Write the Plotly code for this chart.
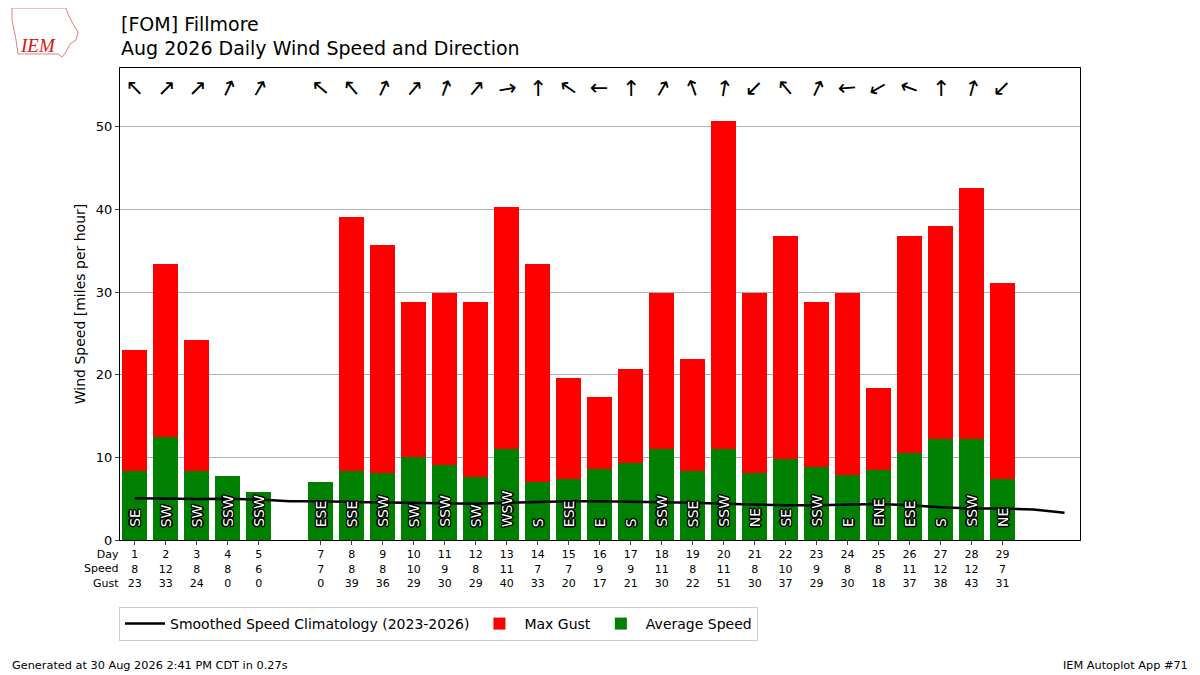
import plotly.graph_objects as go

# daily values (day 6 missing)
days = [1, 2, 3, 4, 5, 7, 8, 9, 10, 11, 12, 13, 14, 15, 16, 17, 18, 19, 20,
        21, 22, 23, 24, 25, 26, 27, 28, 29]
avg_speed = [8.35, 12.5, 8.35, 7.7, 5.8, 7.0, 8.35, 8.1, 10.0, 9.1, 7.6, 11.0,
             7.0, 7.4, 8.6, 9.3, 11.0, 8.35, 11.0, 8.1, 9.8, 8.8, 7.9, 8.5,
             10.5, 12.2, 12.2, 7.4]
max_gust = [23.0, 33.4, 24.2, 0, 0, 0, 39.1, 35.7, 28.8, 29.9, 28.8, 40.3,
            33.4, 19.6, 17.3, 20.7, 29.9, 21.9, 50.7, 29.9, 36.8, 28.8, 29.9,
            18.4, 36.8, 38.0, 42.6, 31.1]
speed_lbl = [8, 12, 8, 8, 6, 7, 8, 8, 10, 9, 8, 11, 7, 7, 9, 9, 11, 8, 11, 8,
             10, 9, 8, 8, 11, 12, 12, 7]
gust_lbl = [23, 33, 24, 0, 0, 0, 39, 36, 29, 30, 29, 40, 33, 20, 17, 21, 30,
            22, 51, 30, 37, 29, 30, 18, 37, 38, 43, 31]
dir_txt = ["SE", "SW", "SW", "SSW", "SSW", "ESE", "SSE", "SSW", "SW", "SSW",
           "SW", "WSW", "S", "ESE", "E", "S", "SSW", "SSE", "SSW", "NE", "SE",
           "SSW", "E", "ENE", "ESE", "S", "SSW", "NE"]
dir_deg = [135, 225, 225, 205, 210, 130, 140, 205, 220, 200, 220, 260, 180,
           125, 90, 180, 210, 160, 190, 45, 140, 205, 85, 60, 110, 180, 195, 45]

clim_days = list(range(1, 32))
clim_speed = [5.05, 5.0, 4.95, 5.0, 4.9, 4.7, 4.7, 4.6, 4.55, 4.5, 4.45, 4.4,
              4.5, 4.6, 4.7, 4.7, 4.65, 4.6, 4.5, 4.4, 4.3, 4.2, 4.2, 4.3,
              4.35, 4.2, 3.95, 3.8, 3.8, 3.7, 3.3]

# page is drawn with an 8px body margin, so size the figure to fit
W, H = 1192, 667
L0, T0, PW, PH = 120, 68, 960, 472   # plot area in page pixels


def px(x):
    return (x - L0) / PW


def py(y):
    return (T0 + PH - y) / PH


fig = go.Figure()
fig.add_trace(go.Bar(x=days, y=max_gust, width=0.8, marker_color="#ff0000",
                     marker_line_width=0, name="Max Gust", legendrank=2))
fig.add_trace(go.Bar(x=days, y=avg_speed, width=0.8, marker_color="#008000",
                     marker_line_width=0, name="Average Speed", legendrank=3))
fig.add_trace(go.Scatter(x=clim_days, y=clim_speed, mode="lines",
                         line=dict(color="black", width=2.5),
                         name="Smoothed Speed Climatology (2023-2026)",
                         legendrank=1))

ticktext = [f"{d}<br>{s}<br>{g}" for d, s, g in zip(days, speed_lbl, gust_lbl)]

anns = []
outline = ("-1.5px 0 0 #000, 1.5px 0 0 #000, 0 -1.5px 0 #000, "
           "0 1.5px 0 #000, -1px -1px 0 #000, 1px -1px 0 #000, "
           "-1px 1px 0 #000, 1px 1px 0 #000")
for d, t in zip(days, dir_txt):
    anns.append(dict(x=d, y=0, xref="x", yref="y", text=t, showarrow=False,
                     textangle=-90, yanchor="bottom", yshift=11,
                     font=dict(color="white", size=14, shadow=outline)))

# wind arrows point where the wind blows to
for d, deg in zip(days, dir_deg):
    anns.append(dict(x=d, y=54.6, xref="x", yref="y", text="↑",
                     showarrow=False, textangle=(deg + 180) % 360,
                     font=dict(size=22, color="black")))

anns += [
    dict(x=px(119), y=py(24), xref="paper", yref="paper",
         text="[FOM] Fillmore", xanchor="left", yanchor="middle",
         showarrow=False, font=dict(size=19)),
    dict(x=px(119), y=py(48), xref="paper", yref="paper",
         text="Aug 2026 Daily Wind Speed and Direction", xanchor="left",
         yanchor="middle", showarrow=False, font=dict(size=19)),
    dict(x=px(121), y=py(569), xref="paper", yref="paper",
         text="Day<br>Speed<br>Gust", align="right", xanchor="right",
         yanchor="middle", showarrow=False, font=dict(size=11)),
    dict(x=px(10), y=py(665), xref="paper", yref="paper",
         text="Generated at 30 Aug 2026 2:41 PM CDT in 0.27s",
         xanchor="left", yanchor="middle", showarrow=False,
         font=dict(size=11.3)),
    dict(x=px(1190), y=py(665), xref="paper", yref="paper",
         text="IEM Autoplot App #71", xanchor="right", yanchor="middle",
         showarrow=False, font=dict(size=11.3)),
    dict(x=px(38), y=py(45), xref="paper", yref="paper",
         text="<i>IEM</i>", showarrow=False, xanchor="center",
         yanchor="middle",
         font=dict(family="Liberation Serif", size=19, color="#dd1111")),
]

# rough outline of the IEM logo (Iowa shape)
logo = [(12, 8), (66, 8), (68, 14), (72, 22), (78, 32), (76, 40), (70, 44),
        (66, 52), (62, 57), (58, 54), (18, 54), (16, 40), (12, 20)]
path = "M " + " L ".join(f"{px(a):.4f},{py(b):.4f}" for a, b in logo) + " Z"

fig.update_layout(
    width=W, height=H,
    margin=dict(l=L0 - 8, r=W - (L0 - 8) - PW, t=T0 - 8,
                b=H - (T0 - 8) - PH, autoexpand=False),
    paper_bgcolor="white", plot_bgcolor="white",
    font=dict(family="DejaVu Sans", size=12, color="black"),
    barmode="overlay",
    bargap=0,
    xaxis=dict(range=[0.52, 31.5], tickvals=days, ticktext=ticktext,
               tickfont=dict(size=11), ticks="outside", ticklen=4,
               showgrid=False, showline=True, linecolor="black", mirror=True,
               zeroline=False),
    yaxis=dict(range=[0, 57.1], tickvals=[0, 10, 20, 30, 40, 50],
               title=dict(text="Wind Speed [miles per hour]",
                          font=dict(size=14), standoff=6),
               tickfont=dict(size=13),
               ticks="outside", ticklen=4, showgrid=True, gridcolor="#b0b0b0",
               showline=True, linecolor="black", mirror=True, zeroline=False),
    legend=dict(orientation="h", x=px(119), xanchor="left",
                y=py(607), yanchor="top", bordercolor="#cccccc",
                borderwidth=1, font=dict(size=14), traceorder="normal",
                itemwidth=40),
    annotations=anns,
    shapes=[dict(type="path", xref="paper", yref="paper", path=path,
                 line=dict(color="#e08080", width=1))],
)

fig.write_html("out.html")
